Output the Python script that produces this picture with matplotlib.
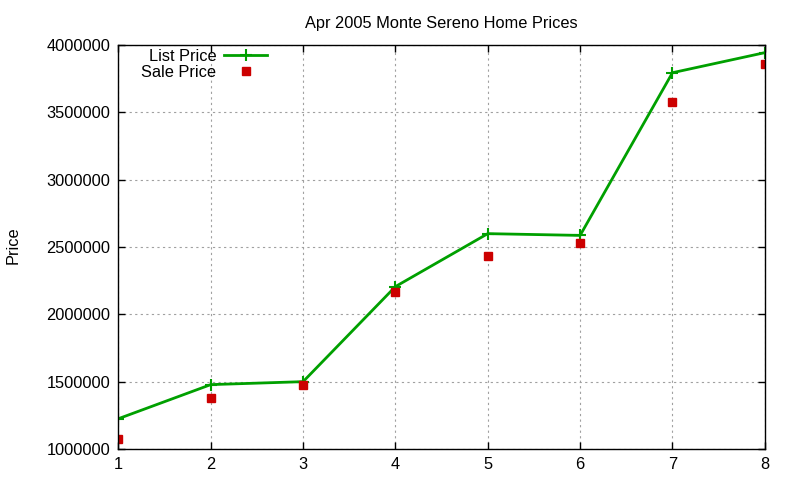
import matplotlib
matplotlib.use("Agg")
import matplotlib.pyplot as plt

plt.rcParams['font.family'] = ['Liberation Sans', 'DejaVu Sans']

x_vals = [1, 2, 3, 4, 5, 6, 7, 8]
list_price = [1225000, 1478000, 1500000, 2206000, 2599000, 2586000, 3794000, 3943000]
sale_price = [1074000, 1381000, 1475000, 2169000, 2435000, 2532000, 3579000, 3861000]
y_ticks = [1000000, 1500000, 2000000, 2500000, 3000000, 3500000, 4000000]
title = "Apr 2005 Monte Sereno Home Prices"

fig = plt.figure(figsize=(8, 4.8), dpi=100)
ax = fig.add_axes([0.148, 0.0646, 0.808, 0.8417])

ax.plot(x_vals, list_price, color='#00a000', lw=2, marker='+', ms=9, mew=1.5, label='List Price')
ax.plot(x_vals, sale_price, color='#cc0000', lw=0, marker='s', ms=6, label='Sale Price')

ax.set_xlim(1, 8)
ax.set_ylim(1000000, 4000000)
ax.set_xticks(x_vals)
ax.set_yticks(y_ticks)
ax.set_yticklabels([str(v) for v in y_ticks])
ax.tick_params(direction='in', length=5, top=True, right=True, labelsize=11.8, pad=6, width=1)
ax.grid(True, color='#a0a0a0', linestyle=(0, (2, 3)), lw=0.8)
for s in ax.spines.values():
    s.set_linewidth(1)
ax.set_title(title, fontsize=11.8, pad=12)
fig.text(0.016, 0.49, 'Price', rotation=90, fontsize=11.8, ha='center', va='center')

leg = ax.legend(loc='upper left', bbox_to_anchor=(0.02, 1.015), frameon=False, markerfirst=False,
                fontsize=11.8, handlelength=2.6, handletextpad=0.5, labelspacing=0.05, borderaxespad=0.2)
for t in leg.get_texts():
    t.set_ha('right')

fig.savefig('out.png', dpi=100)
